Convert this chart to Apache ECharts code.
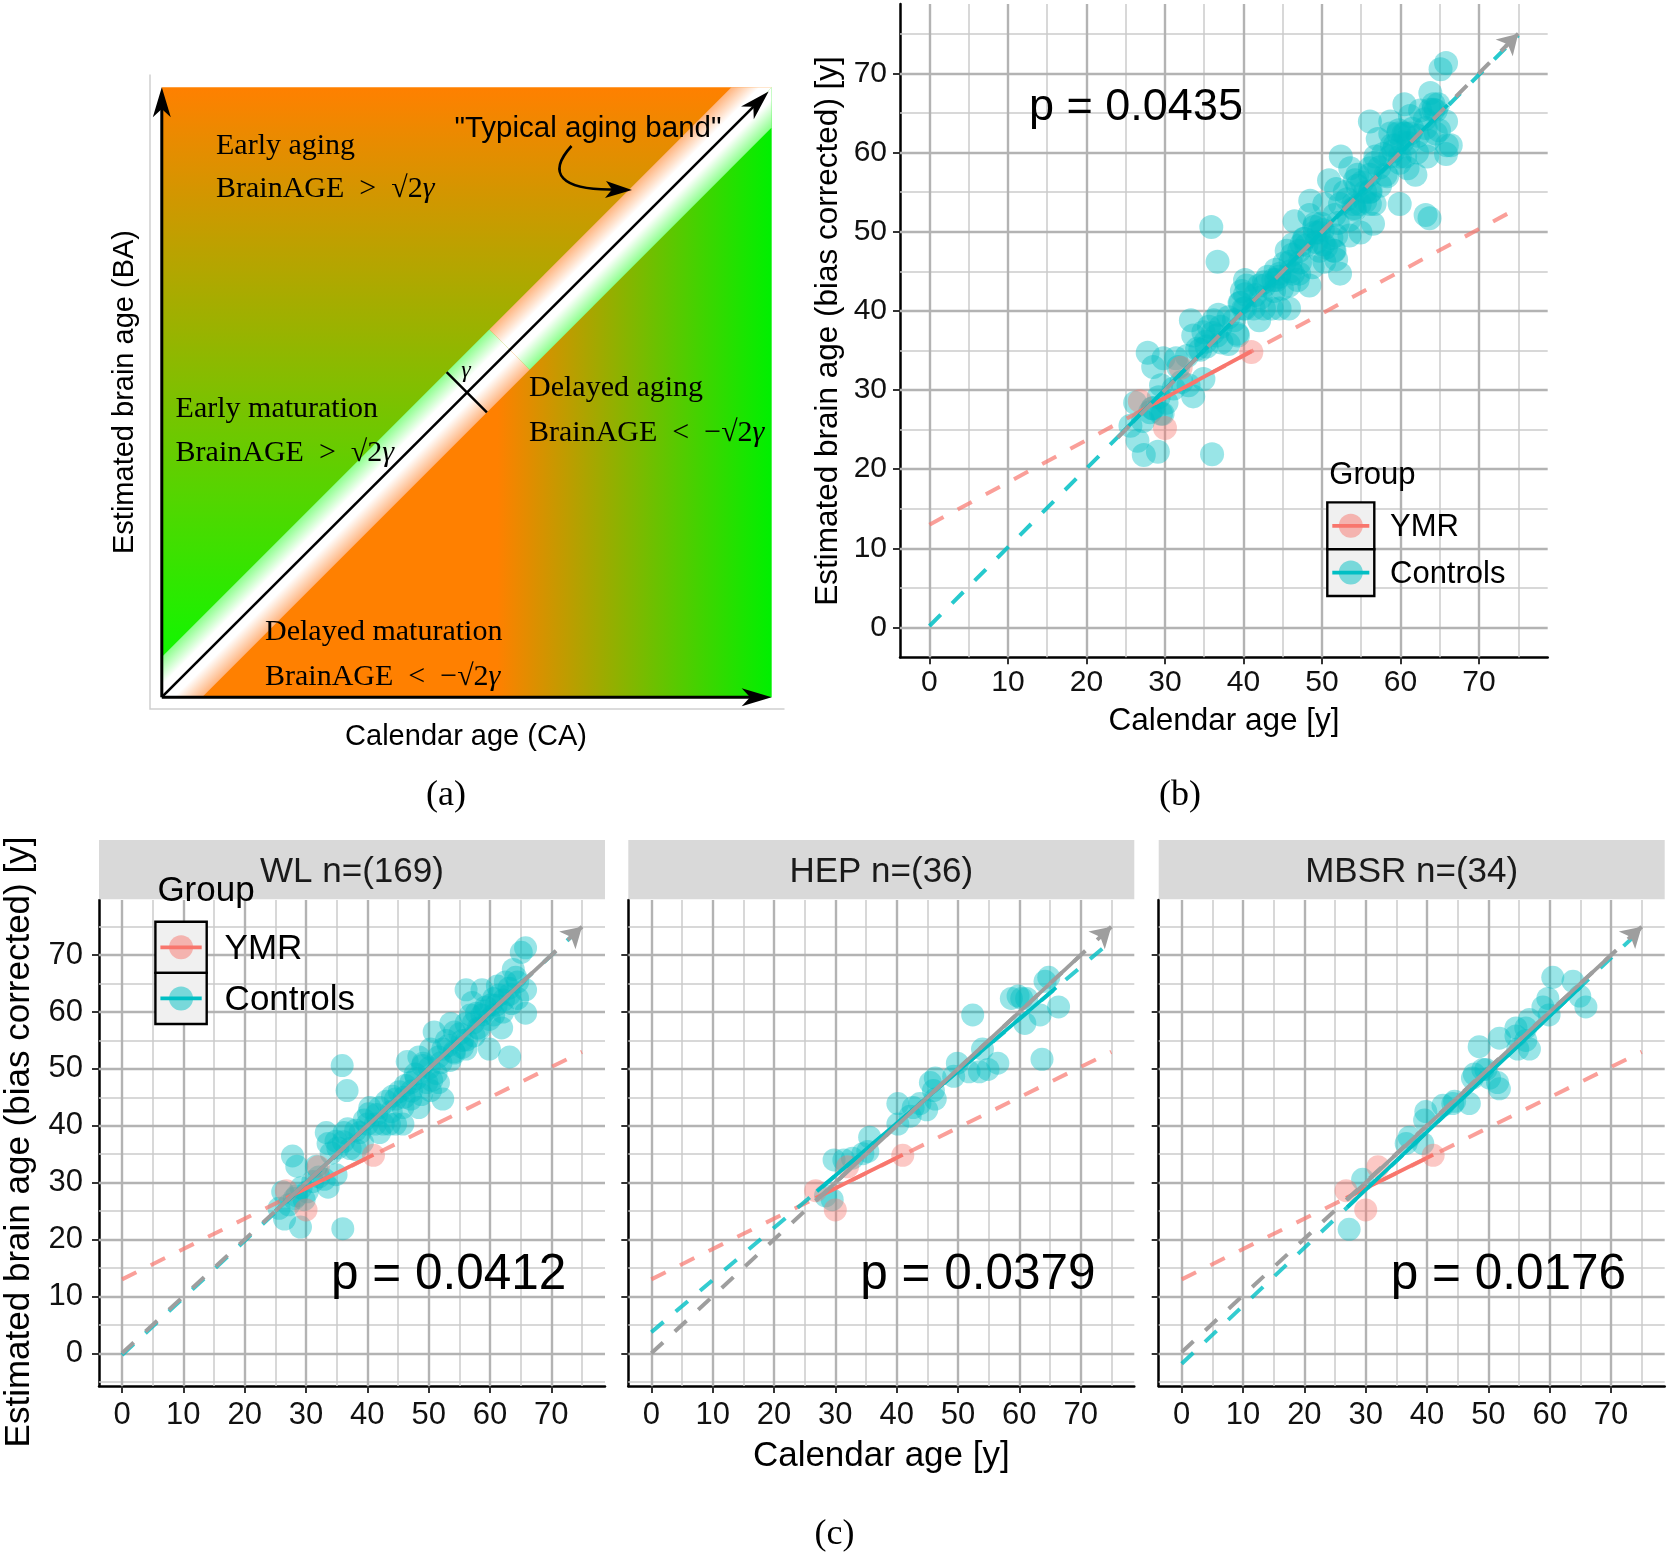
<!DOCTYPE html>
<html><head><meta charset="utf-8">
<script src="https://cdn.jsdelivr.net/npm/echarts@6/dist/echarts.min.js"></script>
<style>html,body{margin:0;padding:0;background:#fff}#c{width:1669px;height:1564px}</style>
</head><body><div id="c"></div>
<script>
// ---------------- DATA ----------------
const majorTicks = [0, 10, 20, 30, 40, 50, 60, 70];
const minorTicksB = [5, 15, 25, 35, 45, 55, 65, 75];
const minorTicksCy = [-5, 5, 15, 25, 35, 45, 55, 65, 75];
const axisRangeB = [-3.75, 78.75];
const axisRangeCx = [-3.75, 78.75];
const axisRangeCy = [-5.75, 79.7];

const facetNames = ['WL n=(169)', 'HEP n=(36)', 'MBSR n=(34)'];
const facetPValues = ['p = 0.0412', 'p = 0.0379', 'p = 0.0176'];
const pValueB = 'p = 0.0435';
const groupNames = ['YMR', 'Controls'];

const ymrPoints = [[26.8,28.6],[30.0,25.2],[32.0,32.8],[41.0,34.8]];

const wlControls = [
[27.8,34.7],[28.5,32.9],[26.2,28.4],[25.6,25.5],[26.5,23.6],[29.1,22.2],[28.5,27.7],[29.7,27.0],[31.7,32.9],[33.6,29.2],
[33.0,30.6],[34.9,31.4],[33.3,38.8],[33.6,36.9],[34.9,37.3],[36.2,38.8],[36.8,39.5],[35.9,50.6],[36.7,46.2],[36.0,21.9],
[38.1,35.8],[38.8,38.8],[40.0,40.3],[40.4,43.2],[42.0,43.2],[41.3,40.3],[42.6,40.3],[43.9,42.5],[44.6,44.7],[45.8,40.3],
[45.8,43.2],[46.5,51.3],[47.1,47.6],[47.8,49.1],[48.4,43.2],[47.1,44.7],[48.4,52.1],[49.0,50.6],[49.7,47.6],[50.3,46.2],
[50.3,53.5],[50.9,56.5],[51.6,47.6],[51.6,52.1],[52.3,53.5],[52.9,55.0],[52.3,44.7],[53.6,58.0],[54.2,56.5],[54.2,52.8],
[55.5,55.0],[56.1,58.0],[56.1,53.5],[56.8,59.5],[56.1,63.9],[57.4,55.8],[58.1,57.2],[58.7,59.5],[59.3,60.9],[59.9,58.7],
[59.9,53.5],[60.6,62.4],[60.6,59.5],[61.2,64.6],[61.9,57.2],[62.5,65.3],[63.2,52.1],[63.2,63.1],[63.8,67.5],[64.5,65.3],
[65.1,70.5],[65.8,71.3],[65.8,63.9],[65.8,59.8],[64.5,62.4],[58.7,63.9],[57.1,61.7],[42.0,38.8],[43.6,40.3],[44.6,40.3],
[40.2,42.1],[43.1,44.3],[45.2,46.0],[48.0,48.3],[50.1,50.2],[52.0,51.1],[53.2,54.1],[55.1,56.2],[57.3,58.1],[59.1,60.2],
[61.0,61.2],[62.2,62.1],[63.1,64.2],[64.2,66.1],[46.2,47.1],[49.1,51.0],[51.2,49.2],[54.1,53.0],[56.2,55.1],[58.3,57.0],
[60.2,61.3],[62.1,60.0],[44.1,45.2],[47.2,46.1],[38.1,39.2],[39.2,37.1],[36.1,37.2],[35.2,36.1],[37.2,36.0],[34.1,35.2],
[32.1,31.0],[31.1,30.2],[29.2,29.1],[28.1,27.2],[27.2,26.1],[30.2,28.4],[39.5,41.0],[41.5,42.0],[53.5,51.5],[55.5,53.8],
[57.8,59.8],[61.5,63.0],[63.5,61.5],[50.5,48.0],[48.8,45.5],[46.0,45.0]
];
const hepControls = [
[29.8,34.0],[31.4,34.0],[32.8,34.3],[35.6,38.0],[35.3,35.5],[34.5,35.1],[28.4,27.7],[29.5,27.0],[40.2,43.9],[40.2,40.3],
[42.7,43.2],[43.8,43.9],[44.9,42.8],[46.3,48.4],[46.0,46.2],[46.3,44.7],[49.9,51.0],[49.3,48.7],[52.4,59.5],[51.8,49.5],
[53.5,49.5],[54.0,53.5],[54.9,49.9],[56.5,51.0],[58.7,62.4],[59.8,62.8],[61.2,62.4],[60.9,58.0],[63.4,59.5],[63.7,51.7],
[64.8,66.1],[64.2,65.4],[66.4,60.9],[60.4,62.4],[42.2,41.7],[45.5,47.6]
];
const mbsrControls = [
[27.3,21.8],[29.5,30.6],[36.6,36.9],[39.3,36.9],[39.8,42.5],[39.6,41.0],[44.2,43.9],[44.5,44.3],[46.9,43.9],[47.4,48.4],
[47.7,49.1],[48.5,53.9],[49.6,49.9],[51.8,46.5],[51.5,47.6],[51.8,55.4],[54.5,55.8],[54.5,57.2],[56.7,53.5],[56.1,55.0],
[56.7,58.7],[56.1,57.2],[59.9,59.5],[59.7,62.4],[60.5,66.1],[63.8,65.4],[64.9,62.8],[65.9,60.9],[54.8,53.5],[49.1,49.9],
[50.2,48.4],[42.6,43.6],[37.1,38.0],[58.9,60.9]
];
const allControls = wlControls.concat(hepControls, mbsrControls);

// regression / reference lines
const ymrDashed = [[0,13],[75,53]];
const ymrFit = [[26.8,27.3],[41,34.9]];
const bCtrlDashed = [[0,0.2],[75,74.8]];
const bCtrlFit = [[24.5,24.6],[66,66]];
const bRefDashed = [[24,24],[75,75]];
const ctrlDashedFacets = [[[0,-0.3],[75,75]], [[0,3.7],[75,72.5]], [[0,-1.85],[75,74.6]]];
const ctrlFitFacets = [[[25,25],[66,66]], [[27,28.5],[66,64.3]], [[27,25.7],[65,64.4]]];
const refDashedFacets = [[[0,0],[75,75]], [[0,0],[75,75]], [[0,0.2],[75,75]]];
const refSolidFacets = [[[25,25],[70,70]], [[27,27],[70,70]], [[27,27],[70,70]]];

// schematic (a), unit square coordinates
const aUpperTriangle = [[0,0],[0,1],[1,1]];
const aLowerTriangle = [[0,0],[1,0],[1,1]];
const aBandHalfWidth = 0.066;
const aBandSplit = 0.57;
const aAxisArrows = [[[0,0],[0,1]], [[0,0],[1,0]], [[0,0],[0.995,0.993]]];
const aGammaMarker = [[0.467,0.533],[0.533,0.467]];

// ---------------- STYLE ----------------
const SANS = '"Liberation Sans", Arial, Helvetica, sans-serif';
const SERIF = '"Liberation Serif", "DejaVu Serif", serif';
const CYAN = '#00BFC4', RED = '#F8766D', GRAY = '#9e9e9e';
const CYAN_A = 'rgba(0,191,196,0.5)', RED_A = 'rgba(248,118,109,0.5)';

const chart = echarts.init(document.getElementById('c'), null, {renderer:'canvas', width:1669, height:1564});

const grids = [
  {left:161.8, top:87.3, width:609.9, height:609.9},
  {left:900, top:4, width:647.7, height:653.3},
  {left:99, top:900, width:506, height:486},
  {left:628.3, top:900, width:506, height:486},
  {left:1158.7, top:900, width:506, height:486}
].map(g => Object.assign({containLabel:false, outerBoundsMode:'none', show:false}, g));

function valAxis(gi, range, opts) {
  return {
    type:'value', gridIndex:gi, min:range[0], max:range[1],
    axisLine:{show:true, onZero:false, lineStyle:{color:'#000', width:2.5}},
    axisTick:{show:true, customValues:majorTicks, length:7, lineStyle:{color:'#333', width:2}},
    axisLabel:{show:opts.label, customValues:majorTicks, fontSize:opts.fs, fontFamily:SANS, color:'#111', margin:opts.margin},
    splitLine:{show:false}, minorTick:{show:false}, minorSplitLine:{show:false}
  };
}

const xAxes = [
  {type:'value', gridIndex:0, min:0, max:1, show:false},
  valAxis(1, axisRangeB, {label:true, fs:30, margin:10}),
  valAxis(2, axisRangeCx, {label:true, fs:31, margin:14}),
  valAxis(3, axisRangeCx, {label:true, fs:31, margin:14}),
  valAxis(4, axisRangeCx, {label:true, fs:31, margin:14})
];
const yAxes = [
  {type:'value', gridIndex:0, min:0, max:1, show:false},
  valAxis(1, axisRangeB, {label:true, fs:30, margin:13}),
  valAxis(2, axisRangeCy, {label:true, fs:31, margin:16}),
  valAxis(3, axisRangeCy, {label:false, fs:31, margin:16}),
  valAxis(4, axisRangeCy, {label:false, fs:31, margin:16})
];

const series = [];

// ----- panel (a) -----
function bandGrad(api, outward, color) {
  const t = aBandSplit, h = aBandHalfWidth / 2;
  const p0 = api.coord([t, t]);
  const p1 = outward > 0 ? api.coord([t - h, t + h]) : api.coord([t + h, t - h]);
  return new echarts.graphic.LinearGradient(p0[0], p0[1], p1[0], p1[1],
    [{offset:0, color:'#ffffff'}, {offset:0.3, color:'#ffffff'}, {offset:1, color:color}], true);
}
const d = aBandHalfWidth, t = aBandSplit;
const aPolys = [
  aUpperTriangle,
  aLowerTriangle,
  [[0,0],[0,d],[t-d/2,t+d/2],[t,t]],
  [[t,t],[t-d/2,t+d/2],[1-d,1],[1,1]],
  [[0,0],[t,t],[t+d/2,t-d/2],[d,0]],
  [[t,t],[1,1],[1,1-d],[t+d/2,t-d/2]]
];
const aFills = [
  () => new echarts.graphic.LinearGradient(0,0,0,1,[{offset:0,color:'#ff8000'},{offset:1,color:'#00ff00'}]),
  () => new echarts.graphic.LinearGradient(0,0,1,0,[{offset:0,color:'#ff8000'},{offset:0.55,color:'#ff8000'},{offset:1,color:'#00f000'}]),
  api => bandGrad(api, 1, '#8cff8c'),
  api => bandGrad(api, 1, '#ffb47e'),
  api => bandGrad(api, -1, '#ffb47e'),
  api => bandGrad(api, -1, '#8cff8c')
];
series.push({
  type:'custom', xAxisIndex:0, yAxisIndex:0, silent:true, clip:false, z:1,
  data: aPolys.map(() => [0.5, 0.5]),
  renderItem: (params, api) => {
    const i = params.dataIndex;
    return {type:'polygon', shape:{points:aPolys[i].map(p => api.coord(p))},
            style:{fill:aFills[i](api), stroke:null, lineWidth:0}};
  }
});
function arrowHeadPts(tip, dir, L, W) {
  const px = -dir[1], py = dir[0];
  const bx = tip[0] - L*dir[0], by = tip[1] - L*dir[1];
  const nx = tip[0] - 0.72*L*dir[0], ny = tip[1] - 0.72*L*dir[1];
  return [tip, [bx + px*W/2, by + py*W/2], [nx, ny], [bx - px*W/2, by - py*W/2]];
}
series.push({
  type:'custom', xAxisIndex:0, yAxisIndex:0, silent:true, clip:false, z:2,
  data: aAxisArrows.concat([aGammaMarker]).map(() => [0.5, 0.5]),
  renderItem: (params, api) => {
    const i = params.dataIndex;
    if (i === aAxisArrows.length) {
      const a = api.coord(aGammaMarker[0]), b = api.coord(aGammaMarker[1]);
      return {type:'line', shape:{x1:a[0],y1:a[1],x2:b[0],y2:b[1]}, style:{stroke:'#000', lineWidth:2.5}};
    }
    const seg = aAxisArrows[i];
    const a = api.coord(seg[0]), b = api.coord(seg[1]);
    const len = Math.hypot(b[0]-a[0], b[1]-a[1]);
    const dir = [(b[0]-a[0])/len, (b[1]-a[1])/len];
    const L = 30, W = 18;
    const e = [b[0] - dir[0]*L*0.7, b[1] - dir[1]*L*0.7];
    return {type:'group', children:[
      {type:'line', shape:{x1:a[0],y1:a[1],x2:e[0],y2:e[1]}, style:{stroke:'#000', lineWidth:i===2?2.6:3}},
      {type:'polygon', shape:{points:arrowHeadPts(b, dir, L, W)}, style:{fill:'#000'}}
    ]};
  }
});

// ----- scatter panels -----
function gridLineSeries(gi, minorX, minorY) {
  const maj = {color:'#b3b3b3', width:2.4, type:'solid'};
  const mnr = {color:'#cbcbcb', width:1.5, type:'solid'};
  return {
    type:'scatter', xAxisIndex:gi, yAxisIndex:gi, data:[], silent:true, z:1,
    markLine:{silent:true, animation:false, symbol:['none','none'], z:1, label:{show:false},
      emphasis:{disabled:true},
      data:[].concat(
        minorX.map(v => ({xAxis:v, lineStyle:mnr})),
        minorY.map(v => ({yAxis:v, lineStyle:mnr})),
        majorTicks.map(v => ({xAxis:v, lineStyle:maj})),
        majorTicks.map(v => ({yAxis:v, lineStyle:maj})))
    }
  };
}
function lineS(gi, data, color, opacity, dashed, z) {
  return {type:'line', xAxisIndex:gi, yAxisIndex:gi, data:data, showSymbol:false, symbol:'none',
    silent:true, z:z || 4, animation:false,
    lineStyle:{color:color, width:dashed ? 4 : 3.8, opacity:opacity, type: dashed ? [16,16] : 'solid', cap:'butt'}};
}
function arrowTip(gi, seg) {
  const e = seg[1];
  const s = [e[0] - 1.6, e[1] - 1.6 * (e[1]-seg[0][1]) / (e[0]-seg[0][0])];
  return {type:'line', xAxisIndex:gi, yAxisIndex:gi, data:[], silent:true, z:6,
    markLine:{silent:true, animation:false, symbol:['none','arrow'], symbolSize:[18,20], z:6,
      label:{show:false}, emphasis:{disabled:true},
      lineStyle:{color:GRAY, width:4, type:'solid', opacity:1},
      data:[[{coord:s}, {coord:e}]]}};
}
function scatterS(gi, data, color, size, z) {
  return {type:'scatter', xAxisIndex:gi, yAxisIndex:gi, data:data, symbol:'circle', symbolSize:size,
    itemStyle:{color:color}, silent:true, z:z, animation:false};
}

// panel (b)
series.push(gridLineSeries(1, minorTicksB, minorTicksB));
series.push(scatterS(1, allControls, CYAN_A, 24, 3));
series.push(scatterS(1, ymrPoints, RED_A, 24, 3));
series.push(lineS(1, ymrDashed, RED, 0.7, true));
series.push(lineS(1, bCtrlDashed, CYAN, 0.85, true));
series.push(lineS(1, ymrFit, RED, 1, false));
series.push(lineS(1, bCtrlFit, CYAN, 1, false));
series.push(lineS(1, bRefDashed, GRAY, 1, true, 5));
series.push(arrowTip(1, bRefDashed));

// panel (c) facets
const facetControls = [wlControls, hepControls, mbsrControls];
for (let f = 0; f < 3; f++) {
  const gi = 2 + f;
  series.push(gridLineSeries(gi, minorTicksB, minorTicksCy));
  series.push(scatterS(gi, facetControls[f], CYAN_A, 23, 3));
  series.push(scatterS(gi, ymrPoints, RED_A, 23, 3));
  series.push(lineS(gi, ymrDashed, RED, 0.7, true));
  series.push(lineS(gi, ctrlDashedFacets[f], CYAN, 0.8, true));
  series.push(lineS(gi, refDashedFacets[f], GRAY, 1, true, 5));
  series.push(lineS(gi, ymrFit, RED, 1, false));
  series.push(lineS(gi, ctrlFitFacets[f], CYAN, 1, false));
  series.push(lineS(gi, refSolidFacets[f], GRAY, 1, false, 5));
  series.push(arrowTip(gi, refDashedFacets[f]));
}

// ---------------- ANNOTATIONS ----------------
const G = [];
function txt(x, y, text, fs, opts) {
  opts = opts || {};
  G.push({type:'text', x:x, y:y, rotation:opts.rot || 0, z:100, silent:true,
    style:{text:text, fontSize:fs, fontFamily:opts.font || SANS, fill:opts.color || '#000',
      align:opts.align || 'left', verticalAlign:'middle', fontStyle:opts.italic ? 'italic' : 'normal', rich:opts.rich}});
}
// panel (a) frame
G.push({type:'polyline', z:0, silent:true, shape:{points:[[150,74.5],[150,709],[784.5,709]]}, style:{stroke:'#cfcfcf', lineWidth:1.5, fill:null}});
const richA = {
  n:{fontSize:30, fontFamily:SERIF, fill:'#000'},
  g:{fontSize:30, fontFamily:SERIF, fontStyle:'italic', fill:'#000'}
};
txt(216, 146, 'Early aging', 30, {font:SERIF});
txt(216, 189.5, '{n|BrainAGE  >  √2}{g|γ}', 30, {font:SERIF, rich:richA});
txt(175.6, 408.7, 'Early maturation', 30, {font:SERIF});
txt(175.6, 453.4, '{n|BrainAGE  >  √2}{g|γ}', 30, {font:SERIF, rich:richA});
txt(529, 388.5, 'Delayed aging', 30, {font:SERIF});
txt(529, 433, '{n|BrainAGE  <  −√2}{g|γ}', 30, {font:SERIF, rich:richA});
txt(265, 632, 'Delayed maturation', 30, {font:SERIF});
txt(265, 677, '{n|BrainAGE  <  −√2}{g|γ}', 30, {font:SERIF, rich:richA});
txt(454.5, 129, '"Typical aging band"', 29.5);
txt(466, 371, 'γ', 24, {font:SERIF, italic:true, align:'center'});
G.push({type:'bezierCurve', z:100, silent:true,
  shape:{x1:571.5, y1:146, cpx1:546, cpy1:174, cpx2:562, cpy2:190, x2:612, y2:189.5},
  style:{stroke:'#000', lineWidth:2.6, fill:null}});
G.push({type:'polygon', z:100, silent:true,
  shape:{points:[[632,190],[606,181],[612,189.5],[605,198]]}, style:{fill:'#000'}});
txt(124.5, 392, 'Estimated brain age (BA)', 29, {align:'center', rot:Math.PI/2});
txt(466, 736.6, 'Calendar age (CA)', 29, {align:'center'});
txt(446, 796, '(a)', 36, {font:SERIF, align:'center'});
txt(1180, 796, '(b)', 36, {font:SERIF, align:'center'});
txt(834.5, 1535, '(c)', 36, {font:SERIF, align:'center'});

// panel (b) texts
txt(828, 331, 'Estimated brain age (bias corrected) [y]', 31.5, {align:'center', rot:Math.PI/2});
txt(1224, 721.5, 'Calendar age [y]', 31.5, {align:'center'});
txt(1029, 107.5, pValueB, 45);

// legends
function legend(x, titleY, keyTop, w, h, fs, labelX, r) {
  txt(x + 2, titleY, 'Group', fs);
  const cols = [[RED, RED_A], [CYAN, CYAN_A]];
  for (let k = 0; k < 2; k++) {
    const y0 = keyTop + k*h;
    G.push({type:'rect', z:100, silent:true, shape:{x:x, y:y0, width:w, height:h}, style:{fill:'#f0f0f0', stroke:'#000', lineWidth:2.4}});
    G.push({type:'circle', z:101, silent:true, shape:{cx:x+w/2, cy:y0+h/2, r:r}, style:{fill:cols[k][1]}});
    G.push({type:'line', z:102, silent:true, shape:{x1:x+5, y1:y0+h/2, x2:x+w-5, y2:y0+h/2}, style:{stroke:cols[k][0], lineWidth:3.8}});
    txt(labelX, y0 + h/2 + 1.5, groupNames[k], fs);
  }
}
legend(1327.3, 475.5, 502.4, 47, 46.8, 31, 1390, 12);
legend(155.4, 891, 921.8, 51.3, 51.1, 35, 224.6, 12);

// panel (c) strips and texts
const facetLeft = [99, 628.3, 1158.7];
for (let f = 0; f < 3; f++) {
  G.push({type:'rect', z:50, silent:true, shape:{x:facetLeft[f], y:840, width:506, height:59.3}, style:{fill:'#d9d9d9'}});
  txt(facetLeft[f] + 253, 872.5, facetNames[f], 35, {align:'center', color:'#1a1a1a'});
  txt(facetLeft[f] + 232, 1275, facetPValues[f], 49.5);
}
txt(19.2, 1142, 'Estimated brain age (bias corrected) [y]', 35, {align:'center', rot:Math.PI/2});
txt(881.3, 1456, 'Calendar age [y]', 35, {align:'center'});

chart.setOption({
  animation:false,
  backgroundColor:'#ffffff',
  grid:grids, xAxis:xAxes, yAxis:yAxes, series:series, graphic:{elements:G}
});
</script></body></html>
